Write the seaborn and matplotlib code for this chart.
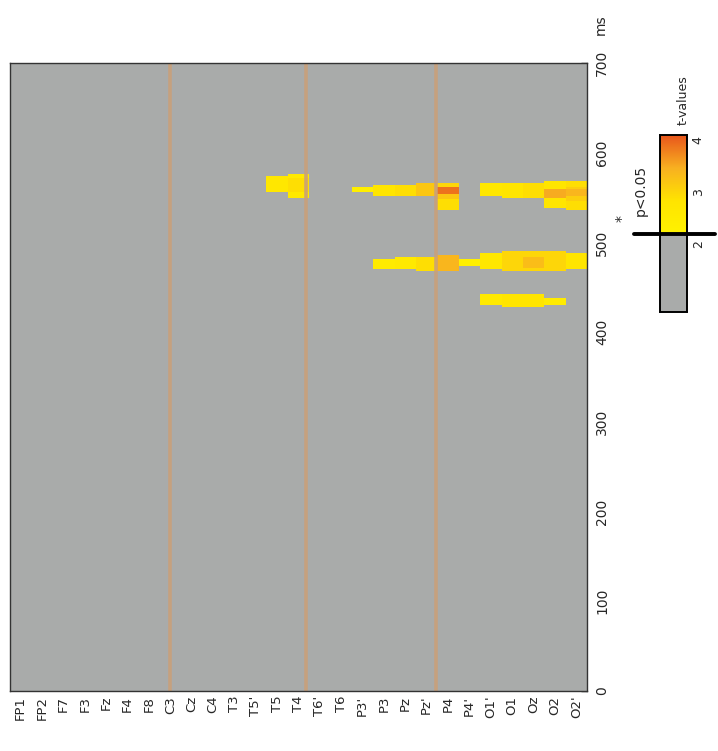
import numpy as np
import pandas as pd
import matplotlib
matplotlib.use("Agg")
import matplotlib.pyplot as plt
from matplotlib.colors import LinearSegmentedColormap, ListedColormap
import seaborn as sns

# ---------------- data ----------------
channels = ["FP1", "FP2", "F7", "F3", "Fz", "F4", "F8", "C3", "Cz", "C4", "T3",
            "T5'", "T5", "T4", "T6'", "T6", "P3'", "P3", "Pz", "Pz'", "P4",
            "P4'", "O1'", "O1", "Oz", "O2", "O2'"]
time_ticks = [0, 100, 200, 300, 400, 500, 600, 700]
bin_ms = 2
max_ms = 700

# significant clusters: channel, start ms, end ms, t-value
seg_channel = ["T5", "T4", "T4", "P3'", "P3", "Pz", "Pz'", "P4", "P4", "P4", "P4",
               "O1'", "O1", "Oz", "O2", "O2", "O2'", "O2'", "O2'",
               "P3", "Pz", "Pz'", "P4", "P4'", "O1'", "O1", "Oz", "Oz", "O2", "O2'",
               "O1'", "O1", "Oz", "O2"]
seg_start = [556, 551, 556, 557, 553, 553, 552, 536, 548, 554, 563,
             552, 551, 551, 538, 551, 536, 546, 553,
             471, 470, 469, 468, 475, 470, 468, 468, 473, 469, 470,
             430, 428, 428, 431]
seg_end = [575, 576, 572, 563, 565, 565, 566, 548, 554, 563, 567,
           566, 567, 567, 568, 560, 569, 562, 560,
           483, 484, 485, 486, 482, 489, 491, 491, 485, 490, 488,
           442, 443, 443, 439]
seg_t = [2.7, 2.6, 2.9, 2.4, 2.8, 2.9, 3.2, 2.9, 3.2, 3.9, 3.0,
         2.7, 2.8, 2.9, 2.8, 3.5, 2.9, 3.1, 3.4,
         2.5, 2.6, 2.9, 3.4, 2.3, 2.7, 3.0, 3.0, 3.3, 3.0, 2.8,
         2.6, 2.8, 2.8, 2.5]
background_t = 1.0

separator_pos = [7.5, 13.85, 19.95]

cbar_ticks = [2, 3, 4]
t_min, t_max, t_threshold = 0.7, 4.1, 2.2

# ---------------- build matrix ----------------
n_rows = max_ms // bin_ms
tmat = np.full((n_rows, len(channels)), background_t)
for ch, s, e, t in zip(seg_channel, seg_start, seg_end, seg_t):
    c = channels.index(ch)
    r0, r1 = s // bin_ms, e // bin_ms
    tmat[r0:r1, c] = np.maximum(tmat[r0:r1, c], t)
df = pd.DataFrame(tmat, columns=channels, index=np.arange(n_rows) * bin_ms)

# ---------------- colormap ----------------
gray = "#a9abaa"
warm = LinearSegmentedColormap.from_list(
    "warm", ["#fff200", "#ffe400", "#f8b020", "#e8561c"])
N = 512
vals = np.linspace(t_min, t_max, N)
cols = []
for v in vals:
    if v < t_threshold:
        cols.append(matplotlib.colors.to_rgba(gray))
    else:
        cols.append(warm((v - t_threshold) / (t_max - t_threshold)))
cmap = ListedColormap(cols)

# ---------------- figure ----------------
sns.set_style("white")
plt.rcParams["font.family"] = ["DejaVu Sans"]
W, H = 718, 751
fig = plt.figure(figsize=(W / 100, H / 100), dpi=100)
ax = fig.add_axes([10 / W, 1 - 691 / H, 577 / W, 628 / H])
cax = fig.add_axes([660 / W, 1 - 312 / H, 27 / W, 177 / H])

sns.heatmap(df, cmap=cmap, vmin=t_min, vmax=t_max, ax=ax, cbar_ax=cax,
            cbar_kws={"ticks": cbar_ticks}, rasterized=True)
ax.invert_yaxis()

for x in separator_pos:
    ax.axvline(x, color="#c9a07a", lw=2.6, alpha=0.9)

ax.set_xticks(np.arange(len(channels)) + 0.5)
ax.set_xticklabels(channels, rotation=90, fontsize=9.5)
ax.set_yticks(np.array(time_ticks) / bin_ms)
ax.set_yticklabels([str(t) for t in time_ticks], rotation=90, fontsize=10,
                   va="center")
ax.yaxis.tick_right()
ax.tick_params(axis="both", direction="in", length=4, width=1, color="#222222")
ax.tick_params(axis="y", pad=6)
ax.set_xlabel("")
ax.set_ylabel("")
for s in ax.spines.values():
    s.set_visible(True)
    s.set_color("#333333")
    s.set_linewidth(1.0)

fig.text(601 / W, 1 - 25 / H, "ms", rotation=90, ha="center", va="center",
         fontsize=10)

# colorbar styling
cax.tick_params(direction="in", length=4, labelrotation=90, labelsize=9)
for lab in cax.get_yticklabels():
    lab.set_va("center")
for s in cax.spines.values():
    s.set_visible(True)
    s.set_color("black")
    s.set_linewidth(1.2)
cax.axhline(t_threshold, xmin=-0.95, xmax=2.05, color="black", lw=2.8,
            clip_on=False)
fig.text(683 / W, 1 - 100 / H, "t-values", rotation=90, ha="center",
         va="center", fontsize=9)
fig.text(641 / W, 1 - 190 / H, "p<0.05", rotation=90, ha="center",
         va="center", fontsize=10)
fig.text(622 / W, 1 - 218 / H, "*", rotation=90, ha="center", va="center",
         fontsize=10)

fig.savefig("out.png", dpi=100)
